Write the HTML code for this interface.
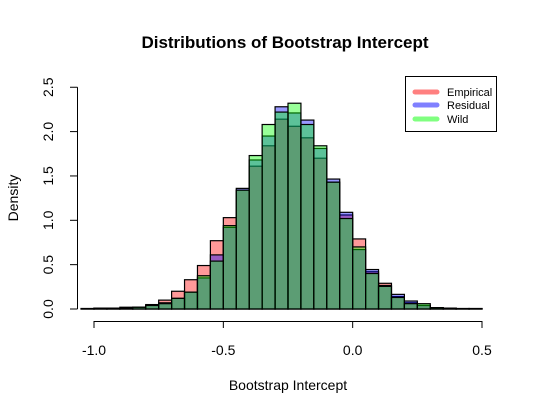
<!DOCTYPE html>
<html><head><meta charset="utf-8"><style>
body{margin:0;background:#fff;}
svg{display:block;font-family:"Liberation Sans",Arial,sans-serif;}
</style></head><body>
<svg id="chart" width="538" height="416">
<text x="285" y="48" text-anchor="middle" font-size="17" font-weight="bold">Distributions of Bootstrap Intercept</text>
<text x="288" y="390" text-anchor="middle" font-size="14">Bootstrap Intercept</text>
<text transform="translate(18,198) rotate(-90)" text-anchor="middle" font-size="14">Density</text>
<g id="bars"></g>
<g id="axes"></g>
<g>
<rect x="405.5" y="76.5" width="91" height="55" fill="#fff" stroke="#000"/>
<line x1="415" y1="92" x2="437" y2="92" stroke="#ff8080" stroke-width="5" stroke-linecap="round"/>
<text x="447" y="96" font-size="11">Empirical</text>
<line x1="415" y1="105" x2="437" y2="105" stroke="#8080ff" stroke-width="5" stroke-linecap="round"/>
<text x="447" y="109" font-size="11">Residual</text>
<line x1="415" y1="119" x2="437" y2="119" stroke="#80ff80" stroke-width="5" stroke-linecap="round"/>
<text x="447" y="123" font-size="11">Wild</text>
</g>
</svg>
<script>
const binStarts=[-1.05,-1.0,-0.95,-0.9,-0.85,-0.8,-0.75,-0.7,-0.65,-0.6,-0.55,-0.5,-0.45,-0.4,-0.35,-0.3,-0.25,-0.2,-0.15,-0.1,-0.05,0.0,0.05,0.1,0.15,0.2,0.25,0.3,0.35,0.4,0.45];
const empirical=[0.005,0.01,0.01,0.02,0.02,0.05,0.1,0.2,0.33,0.49,0.77,1.03,1.34,1.61,1.84,2.14,2.06,1.93,1.70,1.43,1.06,0.79,0.42,0.29,0.14,0.07,0.04,0.015,0.01,0.005,0.005];
const residual=[0.005,0.01,0.01,0.01,0.02,0.04,0.07,0.12,0.19,0.35,0.61,0.92,1.36,1.68,1.95,2.28,2.21,2.13,1.81,1.465,1.09,0.67,0.445,0.265,0.165,0.09,0.04,0.015,0.01,0.005,0.005];
const wild=[0.005,0.01,0.01,0.01,0.02,0.04,0.06,0.12,0.19,0.375,0.54,0.94,1.34,1.73,2.08,2.22,2.32,2.08,1.84,1.43,1.02,0.70,0.40,0.255,0.13,0.06,0.06,0.015,0.01,0.005,0.005];
const binWidth=0.05;
const xTicks=[-1.0,-0.5,0.0,0.5];
const xTickLabels=["-1.0","-0.5","0.0","0.5"];
const yTicks=[0,0.5,1,1.5,2,2.5];
const yTickLabels=["0.0","0.5","1.0","1.5","2.0","2.5"];

const NS="http://www.w3.org/2000/svg";
const xs=v=>94+(v+1)*258.67;
const ys=v=>309-v*88.7;
function mk(tag,attrs,parent){const e=document.createElementNS(NS,tag);for(const k in attrs)e.setAttribute(k,attrs[k]);parent.appendChild(e);return e;}
const bars=document.getElementById('bars');
const series=[[empirical,'rgba(255,0,0,0.4)','empirical'],[residual,'rgba(0,0,255,0.4)','residual'],[wild,'rgba(0,255,0,0.4)','wild']];
series.forEach(([vals,col,nm])=>{
  binStarts.forEach((b,i)=>{
    const x0=xs(b),x1=xs(b+binWidth),y=ys(vals[i]);
    const r=mk('rect',{x:x0,y:y,width:x1-x0,height:309-y,fill:col,stroke:'#000','stroke-width':1.2},bars);
    
    
  });
});
const ax=document.getElementById('axes');
mk('line',{x1:xs(-1),x2:xs(0.5),y1:321.5,y2:321.5,stroke:'#000'},ax);
xTicks.forEach((t,i)=>{
  mk('line',{x1:xs(t),x2:xs(t),y1:321,y2:328,stroke:'#000'},ax);
  const tx=mk('text',{x:xs(t),y:355,'text-anchor':'middle','font-size':14},ax);
  tx.textContent=xTickLabels[i];
  
  
});
mk('line',{x1:77.5,x2:77.5,y1:ys(0),y2:ys(2.5),stroke:'#000'},ax);
yTicks.forEach((t,i)=>{
  mk('line',{x1:70,x2:77.5,y1:ys(t),y2:ys(t),stroke:'#000'},ax);
  const tx=mk('text',{transform:`translate(53,${ys(t)}) rotate(-90)`,'text-anchor':'middle','font-size':14},ax);
  tx.textContent=yTickLabels[i];
  
  
});
</script>
</body></html>
